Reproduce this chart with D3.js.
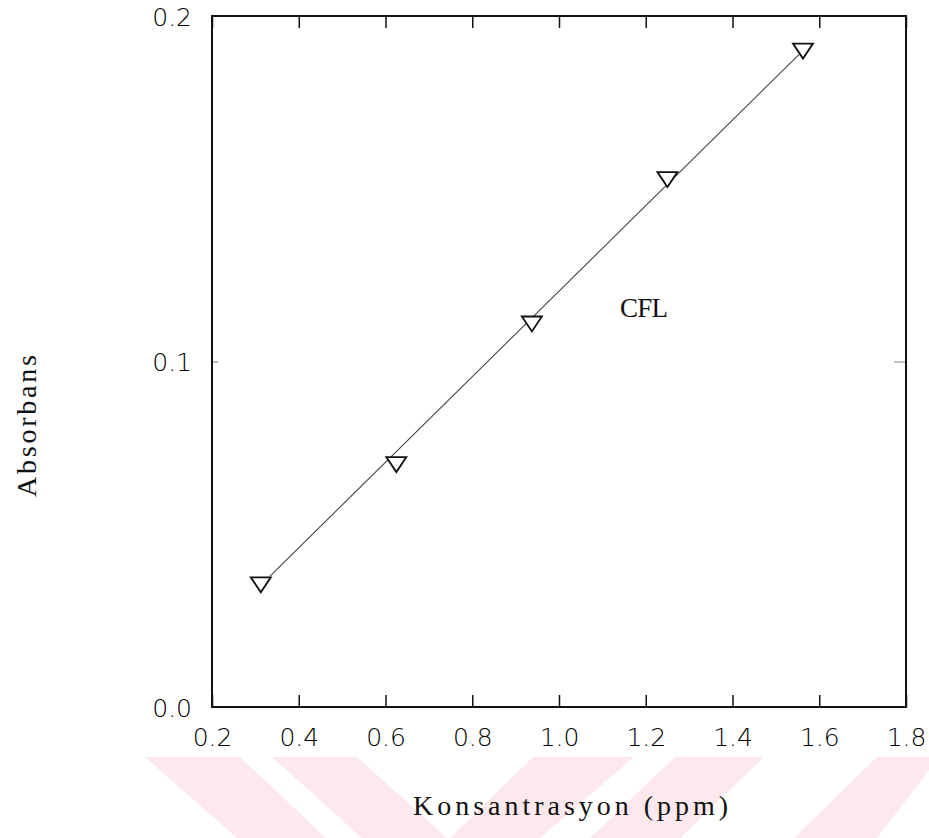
<!DOCTYPE html>
<html>
<head>
<meta charset="utf-8">
<script src="https://cdn.jsdelivr.net/npm/d3@7"></script>
<style>
  body { margin: 0; background: #fff; }
  svg { display: block; }
  .tick text { font-family: "DejaVu Sans", "Liberation Sans", sans-serif; font-weight: 200; font-size: 25px; fill: #000; }
</style>
</head>
<body>
<svg id="chart" width="929" height="838"></svg>
<script>
// data
var concX = [0.3125, 0.625, 0.9375, 1.25, 1.5625];
var absY = [0.0355, 0.0703, 0.111, 0.1528, 0.190];
// regression line ends
var fitX = [0.3125, 1.5625];
var fitY = [0.0355, 0.190];
var xTicks = [0.2, 0.4, 0.6, 0.8, 1.0, 1.2, 1.4, 1.6, 1.8];
var yTicks = [0.0, 0.1, 0.2];

var svg = d3.select("#chart");
var pLeft = 212, pRight = 906, pTop = 16, pBottom = 707;

var x = d3.scaleLinear().domain([0.2, 1.8]).range([pLeft, pRight]);
var y = d3.scaleLinear().domain([0, 0.2]).range([pBottom, pTop]);

// watermark stripes at the bottom
var wm = [
  [[145,757],[240,757],[326,838],[237,838]],
  [[272,757],[357,757],[447,838],[362,838]],
  [[533,757],[634,757],[540,838],[450,838]],
  [[675,757],[764,757],[680,838],[590,838]],
  [[877,757],[929,757],[929,770],[877,838],[794,838]]
];
svg.append("g").selectAll("polygon").data(wm).enter().append("polygon")
  .attr("points", function(d) { return d.map(function(p) { return p.join(","); }).join(" "); })
  .attr("fill", "#fde9ed");

// bottom axis (inward ticks)
var xb = svg.append("g").attr("transform", "translate(0," + pBottom + ")")
  .call(d3.axisBottom(x).tickValues(xTicks).tickSize(-12).tickPadding(21)
    .tickFormat(d3.format(".1f")));
xb.select(".domain").remove();
xb.selectAll(".tick line").attr("stroke", "#111").attr("stroke-width", 1.5);

// top axis
var xt = svg.append("g").attr("transform", "translate(0," + pTop + ")")
  .call(d3.axisTop(x).tickValues(xTicks).tickSize(-12).tickFormat(""));
xt.select(".domain").remove();
xt.selectAll(".tick line").attr("stroke", "#111").attr("stroke-width", 1.5);

// left axis
var yl = svg.append("g").attr("transform", "translate(" + pLeft + ",0)")
  .call(d3.axisLeft(y).tickValues(yTicks).tickSize(-6).tickPadding(20)
    .tickFormat(d3.format(".1f")));
yl.select(".domain").remove();
yl.selectAll(".tick line").attr("stroke", "#777").attr("stroke-width", 1);
yl.selectAll(".tick text").attr("dy", "0.36em");

// right axis
var yr = svg.append("g").attr("transform", "translate(" + pRight + ",0)")
  .call(d3.axisRight(y).tickValues([0.1]).tickSize(-12).tickFormat(""));
yr.select(".domain").remove();
yr.selectAll(".tick line").attr("stroke", "#888").attr("stroke-width", 1);

// frame
svg.append("rect")
  .attr("x", pLeft).attr("y", pTop)
  .attr("width", pRight - pLeft).attr("height", pBottom - pTop)
  .attr("fill", "none").attr("stroke", "#111").attr("stroke-width", 2);

// fitted line
svg.append("line")
  .attr("x1", x(fitX[0]) + 9).attr("y1", y(fitY[0]) - 8)
  .attr("x2", x(fitX[1])).attr("y2", y(fitY[1]))
  .attr("stroke", "#444").attr("stroke-width", 1.1);

// triangle markers (pointing down)
var tri = "M-10,-7 L10,-7 L0,8 Z";
svg.append("g").selectAll("path").data(concX).enter().append("path")
  .attr("d", tri)
  .attr("transform", function(d, i) { return "translate(" + x(d) + "," + y(absY[i]) + ")"; })
  .attr("fill", "#fff").attr("stroke", "#111").attr("stroke-width", 1.8)
  .attr("stroke-linejoin", "miter");

// labels
svg.append("text")
  .attr("x", 620).attr("y", 317)
  .attr("font-family", "Liberation Serif, DejaVu Serif, serif")
  .attr("font-size", 27).attr("fill", "#111")
  .attr("textLength", 48).attr("lengthAdjust", "spacing")
  .text("CFL");

svg.append("text")
  .attr("x", 413).attr("y", 815)
  .attr("font-family", "Liberation Serif, DejaVu Serif, serif")
  .attr("font-size", 28).attr("fill", "#111")
  .attr("textLength", 315).attr("lengthAdjust", "spacing")
  .text("Konsantrasyon (ppm)");

svg.append("text")
  .attr("transform", "translate(36,497) rotate(-90)")
  .attr("font-family", "Liberation Serif, DejaVu Serif, serif")
  .attr("font-size", 28).attr("fill", "#111")
  .attr("textLength", 142).attr("lengthAdjust", "spacing")
  .text("Absorbans");
</script>
</body>
</html>
